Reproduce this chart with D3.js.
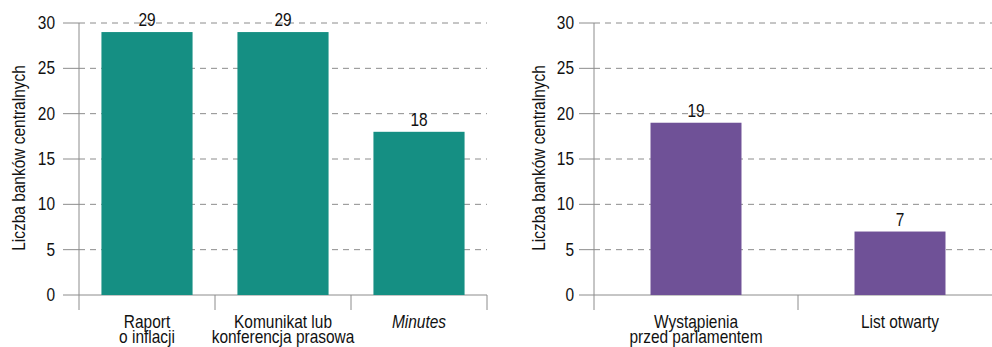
<!DOCTYPE html>
<html><head><meta charset="utf-8">
<script src="https://cdn.jsdelivr.net/npm/d3@7"></script>
<style>body{margin:0;background:#fff}svg{display:block}text{font-family:"Liberation Sans",Arial,sans-serif;fill:#111}</style>
</head><body><svg id="c" width="992" height="347"></svg>
<script>
const leftCategories = [["Raport","o inflacji"],["Komunikat lub","konferencja prasowa"],["Minutes"]];
const leftValues = [29, 29, 18];
const rightCategories = [["Wystąpienia","przed parlamentem"],["List otwarty"]];
const rightValues = [19, 7];
const yTicks = [0, 5, 10, 15, 20, 25, 30];
const yLabel = "Liczba banków centralnych";
const italicCats = ["Minutes"];

const FS = 18, SX = 0.86;
const svg = d3.select("#c");

function txt(parent, x, y, s, anchor, italic) {
  return parent.append("text")
    .attr("transform", `translate(${x},${y}) scale(${SX},1)`)
    .attr("text-anchor", anchor).attr("font-size", FS)
    .attr("font-style", italic ? "italic" : null).text(s);
}

function panel(cats, vals, color, x0, x1, gridStart, tickLabelX, labelX, padInner) {
  const y = d3.scaleLinear().domain([0, 30]).range([295, 23]);
  const x = d3.scaleBand().domain(cats.map((d, i) => i)).range([x0, x1])
    .paddingInner(padInner).paddingOuter(padInner / 2);
  const g = svg.append("g");
  g.selectAll("line.grid").data(yTicks.filter(t => t > 0)).join("line")
    .attr("x1", x0).attr("x2", x1).attr("y1", d => y(d)).attr("y2", d => y(d))
    .attr("stroke", "#8c8c8c").attr("stroke-width", 1).attr("stroke-dasharray", "6,5");
  g.selectAll("line.tk").data(yTicks).join("line")
    .attr("x1", gridStart).attr("x2", x0).attr("y1", d => y(d)).attr("y2", d => y(d))
    .attr("stroke", "#8c8c8c");
  g.append("line").attr("x1", x0).attr("x2", x1).attr("y1", y(0)).attr("y2", y(0)).attr("stroke", "#8c8c8c");
  yTicks.forEach(t => txt(g, tickLabelX, y(t) + 6, t, "end"));
  g.selectAll("rect").data(vals).join("rect")
    .attr("x", (d, i) => x(i)).attr("width", x.bandwidth())
    .attr("y", d => y(d)).attr("height", d => y(0) - y(d)).attr("fill", color);
  vals.forEach((v, i) => txt(g, x(i) + x.bandwidth() / 2, y(v) - 6, v, "middle"));
  g.append("line").attr("x1", x0).attr("x2", x0).attr("y1", 23).attr("y2", 310).attr("stroke", "#8c8c8c");
  const step = x.step();
  cats.forEach((c, i) => {
    const bx = x0 + step * (i + 1);
    if (bx < 992) g.append("line").attr("x1", bx).attr("x2", bx).attr("y1", y(0)).attr("y2", 310).attr("stroke", "#8c8c8c");
  });
  cats.forEach((c, i) => {
    const cx = x(i) + x.bandwidth() / 2;
    c.forEach((line, j) => txt(g, cx, 328 + j * 15, line, "middle", italicCats.includes(line)));
  });
  svg.append("text").attr("transform", `translate(${labelX},158) rotate(-90) scale(${SX},1)`)
    .attr("text-anchor", "middle").attr("font-size", FS).text(yLabel);
}

panel(leftCategories, leftValues, "#158F83", 79, 487, 63, 55, 25, 0.33);
panel(rightCategories, rightValues, "#6F5197", 594, 1002, 579, 574, 545, 0.554);
</script></body></html>
